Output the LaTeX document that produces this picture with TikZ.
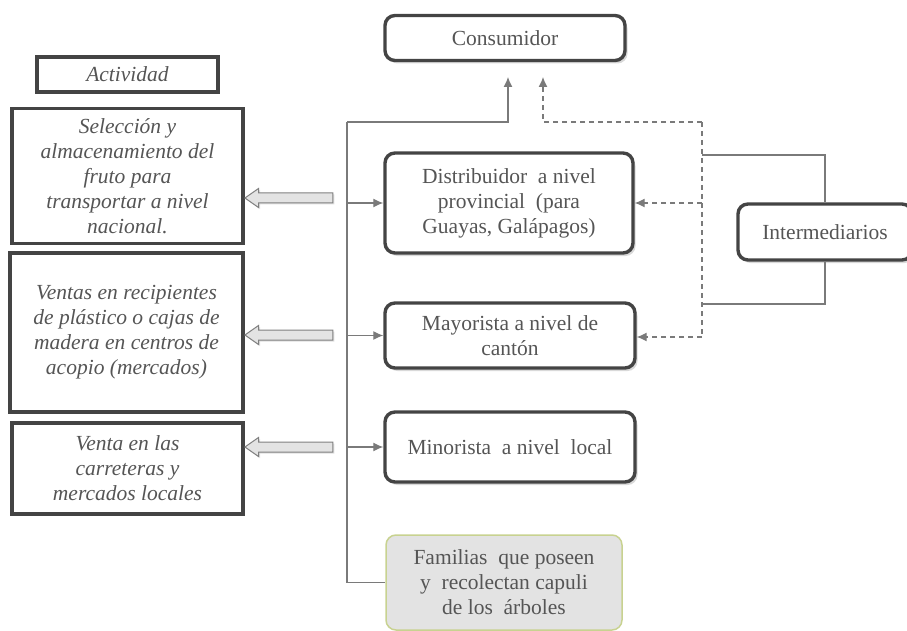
\documentclass[tikz,border=0pt]{standalone}
\usepackage{fontspec}
\setmainfont{Liberation Serif}
\usepackage{tikz}
\usetikzlibrary{positioning,calc,shapes.arrows,shadows,arrows.meta}
\definecolor{txt}{HTML}{555555}
\definecolor{borde}{HTML}{444444}
\definecolor{linea}{HTML}{7A7A7A}
\definecolor{verdoso}{HTML}{C8D290}
\tikzset{caja/.style={draw=borde,line width=3.4pt,rounded corners=3.5mm,fill=white,text=txt,align=center,inner sep=0pt,font=\fontsize{21.5}{25}\selectfont,drop shadow={opacity=0.3,shadow xshift=2.5pt,shadow yshift=-3pt}},
	act/.style={draw=borde,line width=3.4pt,fill=white,text=txt,align=center,inner sep=0pt,font=\itshape\fontsize{21.5}{25}\selectfont,drop shadow={opacity=0.2,shadow xshift=1.5pt,shadow yshift=-1.5pt}},
	flecha/.style={single arrow,draw=gray,fill=gray!22,line width=1pt,inner xsep=0pt,inner ysep=4.5pt,minimum height=88pt,single arrow head extend=4.5pt,single arrow tip angle=70,shape border rotate=180,drop shadow={opacity=0.25,shadow xshift=1.5pt,shadow yshift=-1.5pt}},
	lin/.style={draw=linea,line width=1.2pt},
	trazos/.style={dash pattern=on 5pt off 4pt},
	pt/.style={-{Latex[length=10pt,width=9pt]}}}

\begin{document}
\begin{tikzpicture}[x=1pt,y=-1pt]
	\useasboundingbox (0,0) rectangle (907,631);
	% columna de actividades
	\node[act,minimum width=181,minimum height=35] (actv) at (127.5,74.5) {Actividad};
	\node[act,minimum width=231,minimum height=135] (sel) at (127.5,176) {Selección y\\ almacenamiento del\\ fruto para\\ transportar a nivel\\ nacional.};
	\node[act,minimum width=233,minimum height=159] (ventas) at (126.5,332.5) {Ventas en recipientes\\ de plástico o cajas de\\ madera en centros de\\ acopio (mercados)};
	\node[act,minimum width=231,minimum height=91] (venta) at (127.5,468.5) {Venta en las\\ carreteras y\\ mercados locales};
	\foreach \i/\y in {1/198,2/335,3/447}{
		\node[flecha] (f\i) at (292.5,\y) {};
	}
	% cadena
	\node[caja,minimum width=240,minimum height=45] (cons) at (505,38) {Consumidor};
	\node[caja,minimum width=248,minimum height=100] (dist) at (509,203) {Distribuidor~ a nivel\\ provincial~ (para\\ Guayas, Galápagos)};
	\node[caja,minimum width=250,minimum height=65] (mayor) at (510,335.5) {Mayorista a nivel de\\ cantón};
	\node[caja,minimum width=250,minimum height=70] (minor) at (510,447) {Minorista~ a nivel~ local};
	\node[draw=verdoso,line width=1.5pt,rounded corners=3.5mm,fill=gray!22,text=txt,align=center,inner sep=0pt,font=\fontsize{21.5}{25}\selectfont,minimum width=236,minimum height=95] (fam) at (504,582.5) {Familias~ que poseen\\ y~ recolectan capuli\\ de los~ árboles};
	\node[caja,minimum width=174,minimum height=56] (inter) at (825,232) {Intermediarios};
	\path (347,122) coordinate (tope)
		(508,77) coordinate (c1)
		(543,77) coordinate (c2)
		(702,122) coordinate (d1)
		(702,337) coordinate (d2)
		(702,155) coordinate (i1)
		(702,304) coordinate (i2);
	\draw[lin] (tope) -- (tope |- fam.west) -- (fam.west);
	\draw[lin,pt] (tope) -| (c1);
	\foreach \n in {dist,mayor,minor}{
		\draw[lin,pt] (tope |- \n.west) -- (\n.west);
	}
	\draw[lin,trazos,pt] (d1) -| (c2);
	\draw[lin,trazos] (d1) -- (d2);
	\draw[lin,trazos,pt] (d1 |- dist.east) -- (dist.east);
	\draw[lin,trazos,pt] (d2) -- (d2 -| mayor.east);
	\draw[lin] (inter.north) |- (i1);
	\draw[lin] (inter.south) |- (i2);
\end{tikzpicture}
\end{document}
